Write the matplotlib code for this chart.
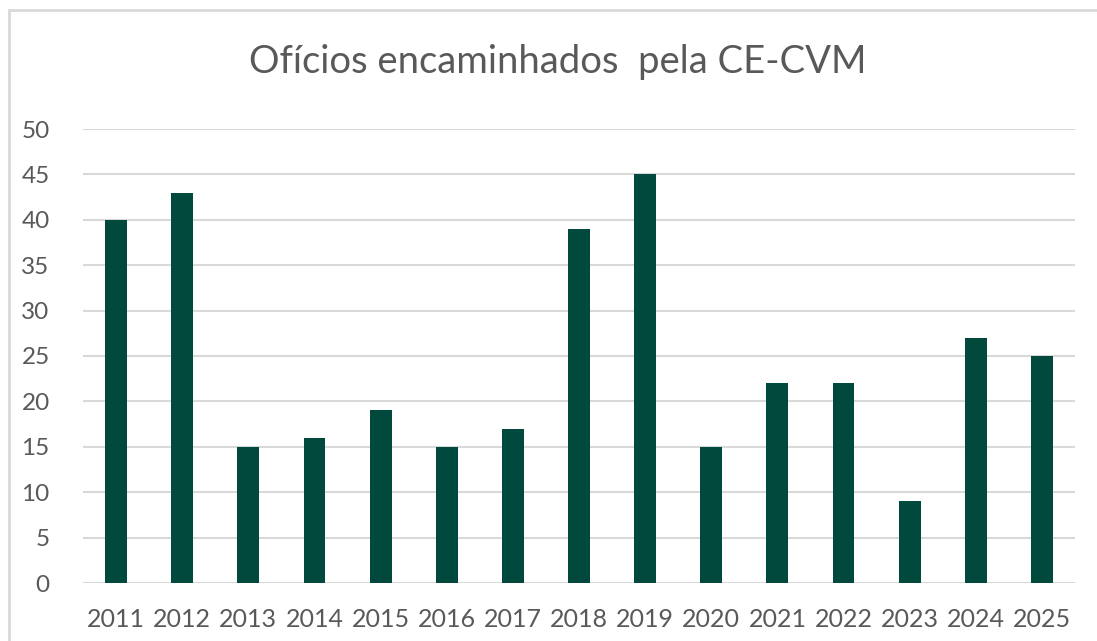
import matplotlib.pyplot as plt
from matplotlib.patches import Rectangle

anos = ['2011', '2012', '2013', '2014', '2015', '2016', '2017', '2018',
        '2019', '2020', '2021', '2022', '2023', '2024', '2025']
oficios = [40, 43, 15, 16, 19, 15, 17, 39, 45, 15, 22, 22, 9, 27, 25]

plt.rcParams['font.family'] = ['Lato', 'DejaVu Sans']

fig = plt.figure(figsize=(10.97, 6.41), dpi=100)
ax = fig.add_axes([83 / 1097, 1 - 583 / 641, 992 / 1097, 454 / 641])

# moldura clara do gráfico
fig.patches.append(Rectangle((9 / 1097, -0.1), 1.2, 1 - 10 / 641 + 0.1,
                             transform=fig.transFigure, fill=False,
                             edgecolor='#d9d9d9', linewidth=2))

ax.bar(anos, oficios, width=0.33, color='#00493c', zorder=3)

ax.set_ylim(0, 50)
ax.set_xlim(-0.5, len(anos) - 0.5)
ax.set_yticks(range(0, 51, 5))
ax.grid(axis='y', color='#d9d9d9', linewidth=1.5, zorder=0)
for s in ax.spines.values():
    s.set_visible(False)
ax.tick_params(length=0, labelsize=17.5, colors='#595959')
ax.tick_params(axis='x', labelsize=18, pad=18)
ax.tick_params(axis='y', pad=24)

fig.text(558 / 1097, 1 - 62 / 641, 'Ofícios encaminhados  pela CE-CVM',
         ha='center', va='center', fontsize=27.5, color='#595959')

fig.savefig('out.png', dpi=100)
